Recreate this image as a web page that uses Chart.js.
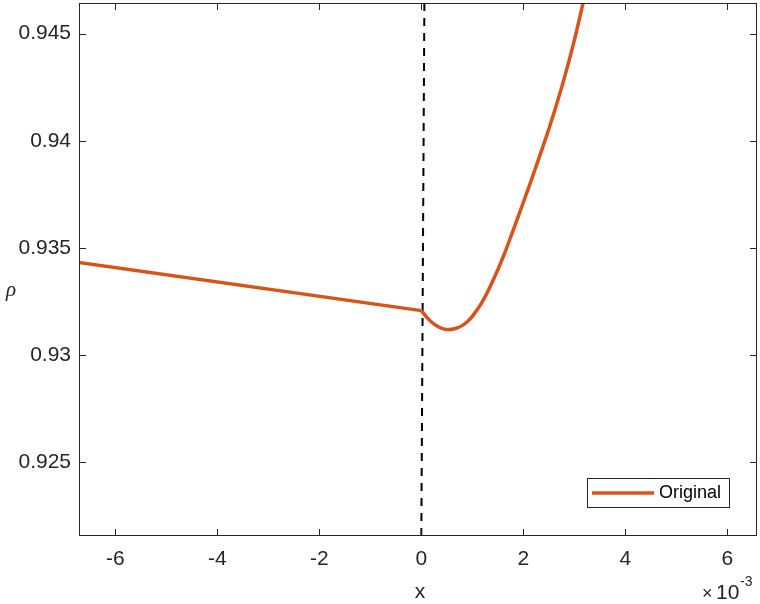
<!DOCTYPE html>
<html lang="en">
<head>
    <meta charset="UTF-8">
    <title>rho vs x</title>
    <script src="https://cdn.jsdelivr.net/npm/chart.js"></script>
    <style>
        html, body { margin: 0; padding: 0; background: #fff; }
        #wrap { width: 760px; height: 604px; position: relative; }
    </style>
</head>
<body>
    <div id="wrap"><canvas id="myChart" width="760" height="604"></canvas></div>

    <script>
        // x values are in units of 1e-3
        const leftX = [-7, 0];
        const leftY = [0.93441, 0.93207];
        const rightX = [0, 0.1, 0.2, 0.3, 0.4, 0.5, 0.6, 0.7, 0.8, 0.9, 1.0, 1.2, 1.4, 1.6, 1.8, 2.0, 2.2, 2.4, 2.6, 2.8, 3.0, 3.2, 3.4];
        const rightY = [0.93207, 0.93178, 0.93154, 0.93136, 0.93124, 0.93119, 0.93120, 0.93126, 0.93137, 0.93155, 0.93180,
                        0.93250, 0.93345, 0.93455, 0.93582, 0.93712, 0.93846, 0.93984, 0.94130, 0.94290, 0.94470, 0.94675, 0.94900];
        const markX = [0, 0.06];
        const markY = [0.92155, 0.94643];

        const xTicks = [-6, -4, -2, 0, 2, 4, 6];
        const yTicks = [0.925, 0.93, 0.935, 0.94, 0.945];
        const yTickLabels = ['0.925', '0.93', '0.935', '0.94', '0.945'];

        const xRange = [-6.71, 6.58];
        const yRange = [0.92155, 0.94643];

        const toPts = (xs, ys) => xs.map((x, i) => ({ x: x, y: ys[i] }));

        const FONT = 'Liberation Sans, Arial, sans-serif';
        const AX = '#262626';
        const ORANGE = '#D95319';

        // frame, inward ticks, axis labels, legend
        const framePlugin = {
            id: 'frame',
            afterDraw(chart) {
                const c = chart.ctx;
                const a = chart.chartArea;
                const xs = chart.scales.x, ys = chart.scales.y;
                c.save();
                c.strokeStyle = AX;
                c.lineWidth = 1;
                c.strokeRect(a.left + 0.5, a.top + 0.5, a.right - a.left - 1, a.bottom - a.top - 1);
                c.beginPath();
                xTicks.forEach(v => {
                    const px = Math.round(xs.getPixelForValue(v)) + 0.5;
                    c.moveTo(px, a.bottom); c.lineTo(px, a.bottom - 7);
                    c.moveTo(px, a.top); c.lineTo(px, a.top + 7);
                });
                yTicks.forEach(v => {
                    const py = Math.round(ys.getPixelForValue(v)) + 0.5;
                    c.moveTo(a.left, py); c.lineTo(a.left + 7, py);
                    c.moveTo(a.right, py); c.lineTo(a.right - 7, py);
                });
                c.stroke();

                c.fillStyle = AX;
                c.textAlign = 'center';
                c.textBaseline = 'middle';
                c.font = '21px ' + FONT;
                c.fillText('x', 420, 592);
                c.font = 'italic 21px Liberation Serif, serif';
                c.fillText('\u03C1', 11, 290);
                c.textAlign = 'left';
                c.font = '18px ' + FONT;
                c.fillText('\u00D7', 702, 594);
                c.font = '21px ' + FONT;
                c.fillText('10', 716, 593);
                c.font = '14px ' + FONT;
                c.fillText('-3', 740, 582);

                // legend
                const lx = 587, ly = 478, lw = 142, lh = 29;
                c.fillStyle = '#fff';
                c.fillRect(lx, ly, lw, lh);
                c.strokeStyle = AX;
                c.lineWidth = 1;
                c.strokeRect(lx + 0.5, ly + 0.5, lw, lh);
                c.strokeStyle = ORANGE;
                c.lineWidth = 3.5;
                c.beginPath();
                c.moveTo(592, ly + 15); c.lineTo(654, ly + 15);
                c.stroke();
                c.fillStyle = '#000';
                c.font = '18px ' + FONT;
                c.fillText('Original', 659, ly + 15);
                c.restore();
            }
        };

        const ctx = document.getElementById('myChart').getContext('2d');
        const myChart = new Chart(ctx, {
            type: 'scatter',
            data: {
                datasets: [{
                    label: 'Original',
                    data: toPts(leftX, leftY),
                    showLine: true,
                    borderColor: ORANGE,
                    borderWidth: 3.5,
                    pointRadius: 0,
                    tension: 0
                }, {
                    label: 'Original (x > 0)',
                    data: toPts(rightX, rightY),
                    showLine: true,
                    borderColor: ORANGE,
                    borderWidth: 3.5,
                    pointRadius: 0,
                    tension: 0.4
                }, {
                    label: 'x = 0',
                    data: toPts(markX, markY),
                    showLine: true,
                    borderColor: '#000',
                    borderWidth: 2,
                    borderDash: [8, 7],
                    pointRadius: 0
                }]
            },
            options: {
                responsive: false,
                animation: false,
                layout: { padding: { top: 3, right: 3, left: 0, bottom: 0 } },
                scales: {
                    x: {
                        type: 'linear',
                        min: xRange[0],
                        max: xRange[1],
                        grid: { display: false, drawTicks: false },
                        border: { display: false },
                        afterBuildTicks: s => { s.ticks = xTicks.map(v => ({ value: v })); },
                        afterFit: s => { s.height = 68; s.paddingLeft = 0; s.paddingRight = 0; },
                        ticks: {
                            color: AX,
                            font: { family: FONT, size: 21 },
                            padding: 11,
                            maxRotation: 0,
                            callback: v => String(v)
                        }
                    },
                    y: {
                        min: yRange[0],
                        max: yRange[1],
                        grid: { display: false, drawTicks: false },
                        border: { display: false },
                        afterBuildTicks: s => { s.ticks = yTicks.map(v => ({ value: v })); },
                        afterFit: s => { s.width = 79; s.paddingTop = 0; s.paddingBottom = 0; },
                        ticks: {
                            color: AX,
                            font: { family: FONT, size: 21 },
                            padding: 8,
                            callback: (v, i) => yTickLabels[i]
                        }
                    }
                },
                plugins: {
                    legend: { display: false },
                    tooltip: { enabled: false }
                }
            },
            plugins: [framePlugin]
        });
    </script>
</body>
</html>
